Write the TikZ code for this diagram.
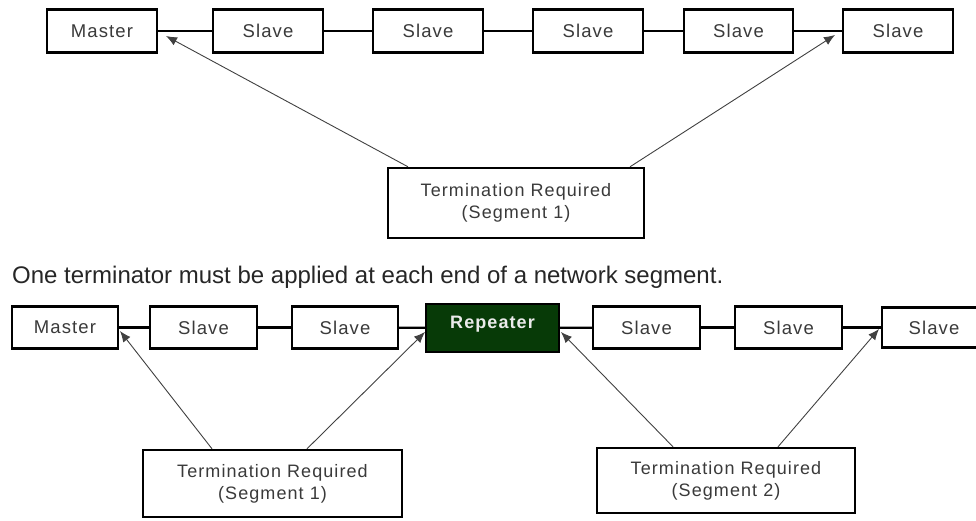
\documentclass[tikz,border=0pt]{standalone}
\usepackage{fontspec}
\setmainfont{Liberation Sans}
\newfontfamily\boxfont[LetterSpace=6]{Liberation Sans}
\usetikzlibrary{arrows.meta}
\definecolor{txtgray}{HTML}{3A3A3A}
\definecolor{repgreen}{HTML}{073A07}
\tikzset{
  unitbox/.style={draw=black, line width=2.3pt, fill=white, minimum height=43pt,
    inner sep=0pt, text=txtgray, font=\boxfont\fontsize{18.5}{20}\selectfont},
  termbox/.style={draw=black, line width=2.4pt, fill=white, inner sep=0pt,
    text=txtgray, align=center, font=\boxfont\fontsize{18}{22}\selectfont},
  link/.style={line width=2.2pt, black},
  ptr/.style={line width=0.9pt, draw=black!75, -{Latex[length=11pt,width=9pt]}},
}
\begin{document}
\begin{tikzpicture}[x=1pt,y=-1pt]
\useasboundingbox (0,0) rectangle (976,521);
\begin{scope}
\clip (0,0) rectangle (976,521);
% top row
\node[unitbox, minimum width=110pt] (m1) at (102,31) {Master};
\node[unitbox, minimum width=110pt] (s1) at (268,31) {Slave};
\node[unitbox, minimum width=110pt] (s2) at (428,31) {Slave};
\node[unitbox, minimum width=110pt] (s3) at (588,31) {Slave};
\node[unitbox, minimum width=109pt] (s4) at (738.5,31) {Slave};
\node[unitbox, minimum width=110pt] (s5) at (898,31) {Slave};
\draw[link] (m1) -- (s1); \draw[link] (s1) -- (s2); \draw[link] (s2) -- (s3);
\draw[link] (s3) -- (s4); \draw[link] (s4) -- (s5);
\node[termbox, minimum width=256pt, minimum height=70pt] (t0) at (516,203)
  {Termination Required\\(Segment 1)};
\coordinate (a1) at (166,36);
\coordinate (a2) at (835,35);
\draw[ptr] (t0.north -| 408,0) -- (a1);
\draw[ptr] (t0.north -| 630,0) -- (a2);
% caption
\node[anchor=base west, inner sep=0pt, text=black!85, font=\fontsize{24}{26}\selectfont] (cap) at (12,283)
  {One terminator must be applied at each end of a network segment.};
% bottom row
\node[unitbox, minimum width=106pt, minimum height=42pt] (bm) at (65,327.5) {Master};
\node[unitbox, minimum width=107pt, minimum height=42pt] (b1) at (203.5,327.5) {Slave};
\node[unitbox, minimum width=106pt, minimum height=42pt] (b2) at (345,327.5) {Slave};
\node[draw=black, line width=2.3pt, fill=repgreen, minimum width=133pt, minimum height=48pt,
  inner sep=0pt] (rp) at (492.5,328) {};
\node[inner sep=0pt, text=white!92!black, font=\boxfont\bfseries\fontsize{18}{20}\selectfont] (rpt) at (492.5,324) {Repeater};
\node[unitbox, minimum width=107pt, minimum height=42pt] (b3) at (646.5,327.5) {Slave};
\node[unitbox, minimum width=107pt, minimum height=42pt] (b4) at (788.5,327.5) {Slave};
\node[unitbox, minimum width=104pt, minimum height=40pt] (b5) at (934,327.5) {Slave};
\draw[link] (bm) -- (b1); \draw[link] (b1) -- (b2); \draw[link] (b2) -- (rp);
\draw[link] (rp) -- (b3); \draw[link] (b3) -- (b4); \draw[link] (b4) -- (b5);
\node[termbox, minimum width=259pt, minimum height=67pt] (t1) at (272.5,483.5)
  {Termination Required\\(Segment 1)};
\node[termbox, minimum width=258pt, minimum height=65pt] (t2) at (726,480.5)
  {Termination Required\\(Segment 2)};
\coordinate (c1) at (120,331);
\coordinate (c2) at (425,332);
\coordinate (c3) at (561,332);
\coordinate (c4) at (879,329);
\draw[ptr] (t1.north -| 212,0) -- (c1);
\draw[ptr] (t1.north -| 307,0) -- (c2);
\draw[ptr] (t2.north -| 673,0) -- (c3);
\draw[ptr] (t2.north -| 778,0) -- (c4);
\end{scope}
\end{tikzpicture}
\end{document}
